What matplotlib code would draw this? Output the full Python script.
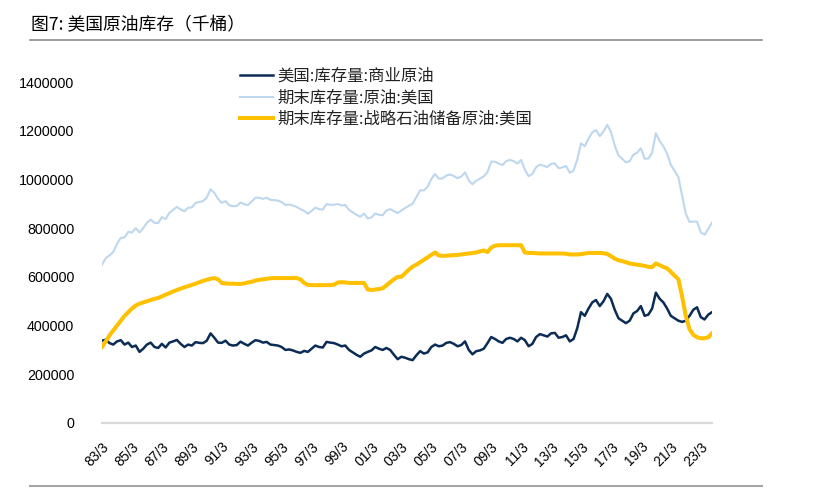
"""美国原油库存图（千桶）。"""

import matplotlib
matplotlib.use('Agg')  # 无显示环境
import matplotlib.pyplot as plt
from matplotlib.lines import Line2D
from matplotlib.ticker import FuncFormatter
import pandas as pd

# 季度数据：1983年3月起，每3个月一个点（千桶）
dates = pd.date_range('1983-03-01', periods=164, freq='3MS')

# 美国:库存量:商业原油
commercial = [
    338, 342, 328, 322,  # 1983
    335, 340, 322, 330,  # 1984
    312, 318, 292, 305,  # 1985
    322, 330, 312, 308,  # 1986
    325, 310, 330, 335,  # 1987
    341, 325, 312, 322,  # 1988
    318, 332, 329, 328,  # 1989
    338, 368, 350, 330,  # 1990
    329, 338, 322, 318,  # 1991
    320, 334, 325, 318,  # 1992
    330, 340, 337, 330,  # 1993
    333, 322, 320, 318,  # 1994
    312, 300, 302, 298,  # 1995
    292, 288, 296, 292,  # 1996
    305, 318, 312, 310,  # 1997
    333, 330, 328, 322,  # 1998
    315, 318, 300, 290,  # 1999
    280, 272, 285, 292,  # 2000
    298, 312, 305, 300,  # 2001
    308, 300, 280, 262,  # 2002
    272, 268, 262, 258,  # 2003
    278, 295, 285, 290,  # 2004
    312, 322, 315, 318,  # 2005
    329, 332, 325, 315,  # 2006
    320, 335, 300, 282,  # 2007
    295, 298, 305, 328,  # 2008
    353, 345, 335, 329,  # 2009
    345, 350, 345, 335,  # 2010
    350, 340, 315, 325,  # 2011
    353, 365, 360, 355,  # 2012
    368, 370, 350, 353,  # 2013
    360, 335, 345, 390,  # 2014
    455, 440, 470, 495,  # 2015
    505, 480, 500, 530,  # 2016
    510, 465, 430, 420,  # 2017
    410, 420, 450, 460,  # 2018
    480, 440, 445, 470,  # 2019
    535, 510, 495, 470,  # 2020
    440, 430, 420, 415,  # 2021
    420, 440, 465, 475,  # 2022
    435, 425, 445, 455,  # 2023
]

# 期末库存量:原油:美国
total = [
    650, 677, 688, 702,
    735, 760, 762, 785,
    782, 800, 782, 800,
    822, 835, 822, 821,
    845, 837, 863, 875,
    887, 877, 869, 884,
    885, 904, 907, 911,
    926, 960, 945, 920,
    904, 911, 894, 890,
    891, 905, 898, 895,
    910, 925, 925, 920,
    925, 916, 915, 913,
    907, 895, 897, 893,
    887, 878, 871, 859,
    871, 884, 878, 876,
    899, 896, 896, 899,
    893, 895, 875, 865,
    855, 847, 860, 840,
    844, 860, 855, 853,
    873, 878, 870, 862,
    872, 883, 892, 900,
    928, 955, 955, 970,
    1002, 1022, 1003, 1004,
    1016, 1020, 1014, 1005,
    1012, 1029, 996, 980,
    995, 1003, 1013, 1030,
    1073, 1073, 1065, 1059,
    1075, 1080, 1075, 1065,
    1080, 1040, 1013, 1023,
    1050, 1061, 1056, 1051,
    1064, 1066, 1046, 1049,
    1055, 1027, 1037, 1082,
    1148, 1136, 1168, 1193,
    1203, 1178, 1197, 1224,
    1195, 1140, 1098, 1085,
    1070, 1075, 1102, 1110,
    1128, 1085, 1086, 1110,
    1190, 1158, 1136, 1105,
    1060, 1035, 1010, 935,
    860, 825, 827, 827,
    783, 773, 797, 823,
]

# 期末库存量:战略石油储备原油:美国
spr = [
    312, 335, 360, 380,
    400, 420, 440, 455,
    470, 482, 490, 495,
    500, 505, 510, 513,
    520, 527, 533, 540,
    546, 552, 557, 562,
    567, 572, 578, 583,
    588, 592, 595, 590,
    575, 573, 572, 572,
    571, 571, 573, 577,
    580, 585, 588, 590,
    592, 594, 595, 595,
    595, 595, 595, 595,
    595, 590, 575, 567,
    566, 566, 566, 566,
    566, 566, 568, 577,
    578, 577, 575, 575,
    575, 575, 575, 548,
    546, 548, 550, 553,
    565, 578, 590, 600,
    600, 615, 630, 642,
    650, 660, 670, 680,
    690, 700, 688, 686,
    687, 688, 689, 690,
    692, 694, 696, 698,
    700, 705, 708, 702,
    720, 728, 730, 730,
    730, 730, 730, 730,
    730, 700, 698, 698,
    697, 696, 696, 696,
    696, 696, 696, 696,
    695, 692, 692, 692,
    693, 696, 698, 698,
    698, 698, 697, 694,
    685, 675, 668, 665,
    660, 655, 652, 650,
    648, 645, 641, 640,
    655, 648, 641, 635,
    620, 605, 590, 520,
    440, 385, 362, 352,
    348, 348, 352, 368,
]

series_names = ['美国:库存量:商业原油', '期末库存量:原油:美国',
                '期末库存量:战略石油储备原油:美国']
tick_years = list(range(1983, 2024, 2))
y_ticks = list(range(0, 1400001, 200000))

CJK = ['Noto Sans CJK SC', 'DejaVu Sans']
NUM = ['Liberation Sans', 'Noto Sans CJK SC']


def main() -> None:
    W, H = 819, 496
    fig = plt.figure(figsize=(W / 100, H / 100), dpi=100)
    ax = fig.add_axes([102 / W, 1 - 423 / H, 610 / W, (423 - 82) / H])

    k = 1000  # 千桶 -> 图中数值
    ax.plot(dates, [v * k for v in commercial], color='#0b2c55', lw=1.8,
            label=series_names[0])
    ax.plot(dates, [v * k for v in total], color='#bdd7ee', lw=1.5,
            label=series_names[1])
    ax.plot(dates, [v * k for v in spr], color='#ffc000', lw=2.9,
            label=series_names[2])

    ax.set_xlim(dates[0], dates[-1])
    ax.set_ylim(0, 1400000)

    # 坐标轴样式：只保留浅灰色零线
    for side in ('top', 'right', 'left'):
        ax.spines[side].set_visible(False)
    ax.spines['bottom'].set_color('#d9d9d9')
    ax.spines['bottom'].set_linewidth(1.6)
    ax.tick_params(length=0)

    ax.set_yticks(y_ticks)
    ax.yaxis.set_major_formatter(FuncFormatter(lambda v, p: '%d' % v))
    ax.tick_params(axis='y', pad=20)
    for lab in ax.get_yticklabels():
        lab.set_fontfamily(NUM)
        lab.set_fontsize(10.3)

    ticks = [pd.Timestamp('%d-03-01' % y) for y in tick_years]
    ax.set_xticks(ticks)
    ax.set_xticklabels(['%02d/3' % (y % 100) for y in tick_years],
                       rotation=45, ha='right', rotation_mode='anchor',
                       fontsize=10, family=NUM)
    ax.tick_params(axis='x', pad=12)

    leg = ax.legend(loc='upper left', bbox_to_anchor=(240 / W, 1 - 68 / H),
                    bbox_transform=fig.transFigure, frameon=False,
                    borderaxespad=0, borderpad=0, handlelength=2.0,
                    handletextpad=0.25, labelspacing=0.27,
                    prop={'family': CJK, 'size': 11.8})
    for t in leg.get_texts():
        t.set_color('#222222')

    # 标题与上下分隔线
    fig.text(31 / W, 1 - 25 / H, '图7: 美国原油库存（千桶）',
             va='center', ha='left', fontsize=12.8, family=CJK)
    fig.add_artist(Line2D([30 / W, 762 / W], [1 - 40 / H] * 2,
                          color='#8c8c8c', lw=1.2))
    fig.add_artist(Line2D([30 / W, 762 / W], [1 - 486 / H] * 2,
                          color='#a6a6a6', lw=1.5))

    fig.savefig('out.png', dpi=100)


if __name__ == "__main__":
    main()
